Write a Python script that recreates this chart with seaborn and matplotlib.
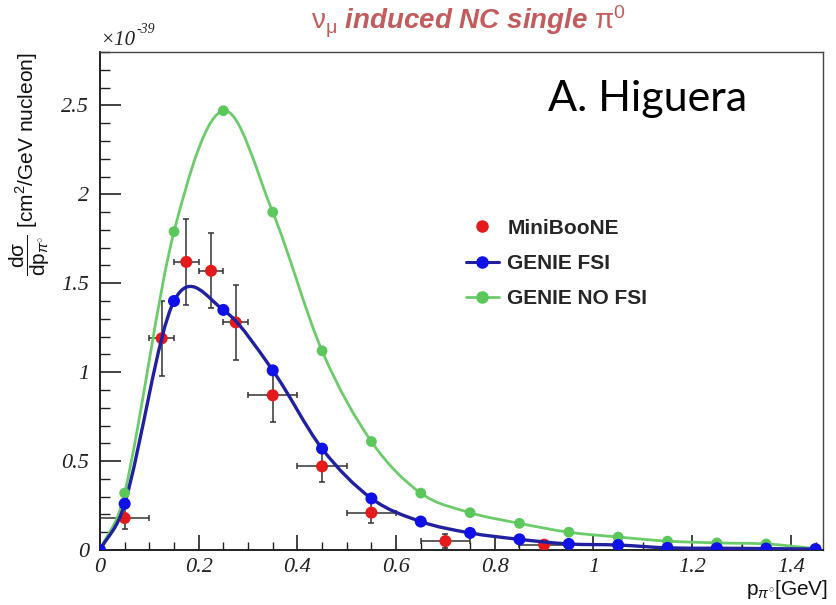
import numpy as np
import pandas as pd
import matplotlib
matplotlib.use("Agg")
import matplotlib.pyplot as plt
import seaborn as sns
from matplotlib.path import Path
from matplotlib.patches import PathPatch
from matplotlib.lines import Line2D
from matplotlib.ticker import FixedLocator, MultipleLocator

# ---------------- data ----------------
genie_x = [0.0, 0.05, 0.15, 0.25, 0.35, 0.45, 0.55, 0.65, 0.75, 0.85,
           0.95, 1.05, 1.15, 1.25, 1.35, 1.45]
genie_fsi = [0.0, 0.26, 1.40, 1.35, 1.01, 0.57, 0.29, 0.16, 0.096, 0.06,
             0.034, 0.028, 0.012, 0.010, 0.008, 0.005]
genie_nofsi = [0.0, 0.32, 1.79, 2.47, 1.90, 1.12, 0.61, 0.32, 0.21, 0.15,
               0.10, 0.073, 0.05, 0.04, 0.034, 0.008]

mb_x = [0.05, 0.125, 0.175, 0.225, 0.275, 0.35, 0.45, 0.55, 0.70, 0.90, 1.25]
mb_y = [0.18, 1.19, 1.62, 1.57, 1.28, 0.87, 0.47, 0.21, 0.05, 0.03, 0.01]
mb_xerr = [0.05, 0.025, 0.025, 0.025, 0.025, 0.05, 0.05, 0.05, 0.05, 0.05, 0.05]
mb_yerr = [0.06, 0.21, 0.24, 0.21, 0.21, 0.15, 0.09, 0.06, 0.04, 0.02, 0.01]

x_ticks = [0, 0.2, 0.4, 0.6, 0.8, 1.0, 1.2, 1.4]
x_tick_labels = ["0", "0.2", "0.4", "0.6", "0.8", "1", "1.2", "1.4"]
y_ticks = [0, 0.5, 1.0, 1.5, 2.0, 2.5]
y_tick_labels = ["0", "0.5", "1", "1.5", "2", "2.5"]

series_names = ["MiniBooNE", "GENIE FSI", "GENIE NO FSI"]

# ---------------- style ----------------
sns.set_theme(style="white")
plt.rcParams["font.family"] = ["Liberation Sans", "DejaVu Sans"]
plt.rcParams["mathtext.fontset"] = "custom"
plt.rcParams["mathtext.rm"] = "Liberation Sans"
plt.rcParams["mathtext.it"] = "Liberation Sans:italic"
plt.rcParams["mathtext.bf"] = "Liberation Sans:bold"

RED = "#e41a1c"
BLUE_M = "#1010e8"
BLUE_L = "#2020a0"
GREEN_M = "#5cc85c"
GREEN_L = "#6ccc6c"
TITLE_C = "#c45c5e"

fig = plt.figure(figsize=(8.36, 6.05), dpi=100)
ax = fig.add_axes([0.1196, 0.0909, 0.8648, 0.8231])


def smooth_path(xs, ys):
    """Smooth cubic (Hermite -> Bezier) path through the given points."""
    xs = np.asarray(xs, float)
    ys = np.asarray(ys, float)
    n = len(xs)
    m = np.zeros(n)
    for i in range(n):
        if i == 0:
            m[i] = (ys[1] - ys[0]) / (xs[1] - xs[0])
        elif i == n - 1:
            m[i] = (ys[-1] - ys[-2]) / (xs[-1] - xs[-2])
        else:
            m[i] = (ys[i + 1] - ys[i - 1]) / (xs[i + 1] - xs[i - 1])
    verts = [(xs[0], ys[0])]
    codes = [Path.MOVETO]
    for i in range(n - 1):
        dx = xs[i + 1] - xs[i]
        verts += [(xs[i] + dx / 3, ys[i] + m[i] * dx / 3),
                  (xs[i + 1] - dx / 3, ys[i + 1] - m[i + 1] * dx / 3),
                  (xs[i + 1], ys[i + 1])]
        codes += [Path.CURVE4] * 3
    return Path(verts, codes)


# MiniBooNE data (drawn first, under the curves)
ax.errorbar(mb_x, mb_y, xerr=mb_xerr, yerr=mb_yerr, fmt="none",
            ecolor="#333333", elinewidth=1.1, capsize=2.5, capthick=1.1, zorder=2)
mb_df = pd.DataFrame({"x": mb_x, "y": mb_y})
sns.scatterplot(data=mb_df, x="x", y="y", ax=ax, color=RED, s=75,
                edgecolor="none", zorder=3, legend=False)

# GENIE curves
ax.add_patch(PathPatch(smooth_path(genie_x, genie_nofsi), facecolor="none",
                       edgecolor=GREEN_L, lw=2.0, zorder=4))
ax.add_patch(PathPatch(smooth_path(genie_x, genie_fsi), facecolor="none",
                       edgecolor=BLUE_L, lw=2.4, zorder=5))

g_df = pd.DataFrame({"x": genie_x, "fsi": genie_fsi, "nofsi": genie_nofsi})
sns.scatterplot(data=g_df, x="x", y="nofsi", ax=ax, color=GREEN_M, s=60,
                edgecolor="none", zorder=6, legend=False)
sns.scatterplot(data=g_df, x="x", y="fsi", ax=ax, color=BLUE_M, s=75,
                edgecolor="none", zorder=7, legend=False)

# ---------------- axes ----------------
ax.set_xlim(0, 1.465)
ax.set_ylim(0, 2.8)
ax.set_xlabel("")
ax.set_ylabel("")
ax.xaxis.set_major_locator(FixedLocator(x_ticks))
ax.set_xticklabels(x_tick_labels)
ax.xaxis.set_minor_locator(MultipleLocator(0.05))
ax.yaxis.set_major_locator(FixedLocator(y_ticks))
ax.set_yticklabels(y_tick_labels)
ax.yaxis.set_minor_locator(MultipleLocator(0.1))

ax.tick_params(axis="x", which="major", direction="in", length=11, width=1.2,
               pad=6, bottom=True, top=False, color="#222222")
ax.tick_params(axis="x", which="minor", direction="in", length=5.5, width=1.0,
               bottom=True, top=False, color="#222222")
ax.tick_params(axis="y", which="major", direction="in", length=15, width=1.2,
               pad=8, left=True, right=False, color="#222222")
ax.tick_params(axis="y", which="minor", direction="in", length=7.5, width=1.0,
               left=True, right=False, color="#222222")
for lab in ax.get_xticklabels() + ax.get_yticklabels():
    lab.set_fontfamily("Liberation Serif")
    lab.set_fontstyle("italic")
    lab.set_fontsize(16)
    lab.set_color("#222222")

for s in ["left", "bottom"]:
    ax.spines[s].set_color("#222222")
    ax.spines[s].set_linewidth(1.4)
for s in ["top", "right"]:
    ax.spines[s].set_color("#444444")
    ax.spines[s].set_linewidth(1.0)

# exponent label
fig.text(0.1196, 0.918, "×10", fontfamily="Liberation Serif", fontstyle="italic",
         fontsize=15, color="#222222", ha="left", va="bottom")
fig.text(0.163, 0.940, "-39", fontfamily="Liberation Serif", fontstyle="italic",
         fontsize=10, color="#222222", ha="left", va="bottom")

# title
fig.text(0.560, 0.964, r"$\mathrm{\nu_{\mu}}$ induced NC single $\mathrm{\pi}^{0}$",
         color=TITLE_C, fontsize=20, fontweight="bold", fontstyle="italic",
         ha="center", va="center")

# y label
fig.text(0.036, 0.914,
         r"$\dfrac{\mathrm{d\sigma}}{\mathrm{dp}_{\pi^{\circ}}}$ [cm$^{2}$/GeV nucleon]",
         rotation=90, fontsize=15, color="#111111", ha="center", va="top")

# x label
fig.text(0.990, 0.026, r"p$_{\pi^{\circ}}$[GeV]", fontsize=15, color="#111111",
         ha="right", va="center")

# author
ax.text(0.62, 0.905, "A. Higuera", transform=ax.transAxes, fontfamily="Lato",
        fontsize=31, color="black", ha="left", va="center")

# legend
handles = [
    Line2D([], [], color=RED, marker="o", linestyle="none", markersize=8),
    Line2D([], [], color=BLUE_L, marker="o", markerfacecolor=BLUE_M,
           markeredgecolor=BLUE_M, lw=2.2, markersize=8),
    Line2D([], [], color=GREEN_L, marker="o", markerfacecolor=GREEN_M,
           markeredgecolor=GREEN_M, lw=2.0, markersize=8),
]
leg = ax.legend(handles, series_names, loc="upper left",
                bbox_to_anchor=(0.48, 0.703), frameon=False,
                prop={"weight": "bold", "size": 15}, handlelength=1.6,
                handletextpad=0.4, labelspacing=0.78)

fig.savefig("out.png", dpi=100, facecolor="white")
